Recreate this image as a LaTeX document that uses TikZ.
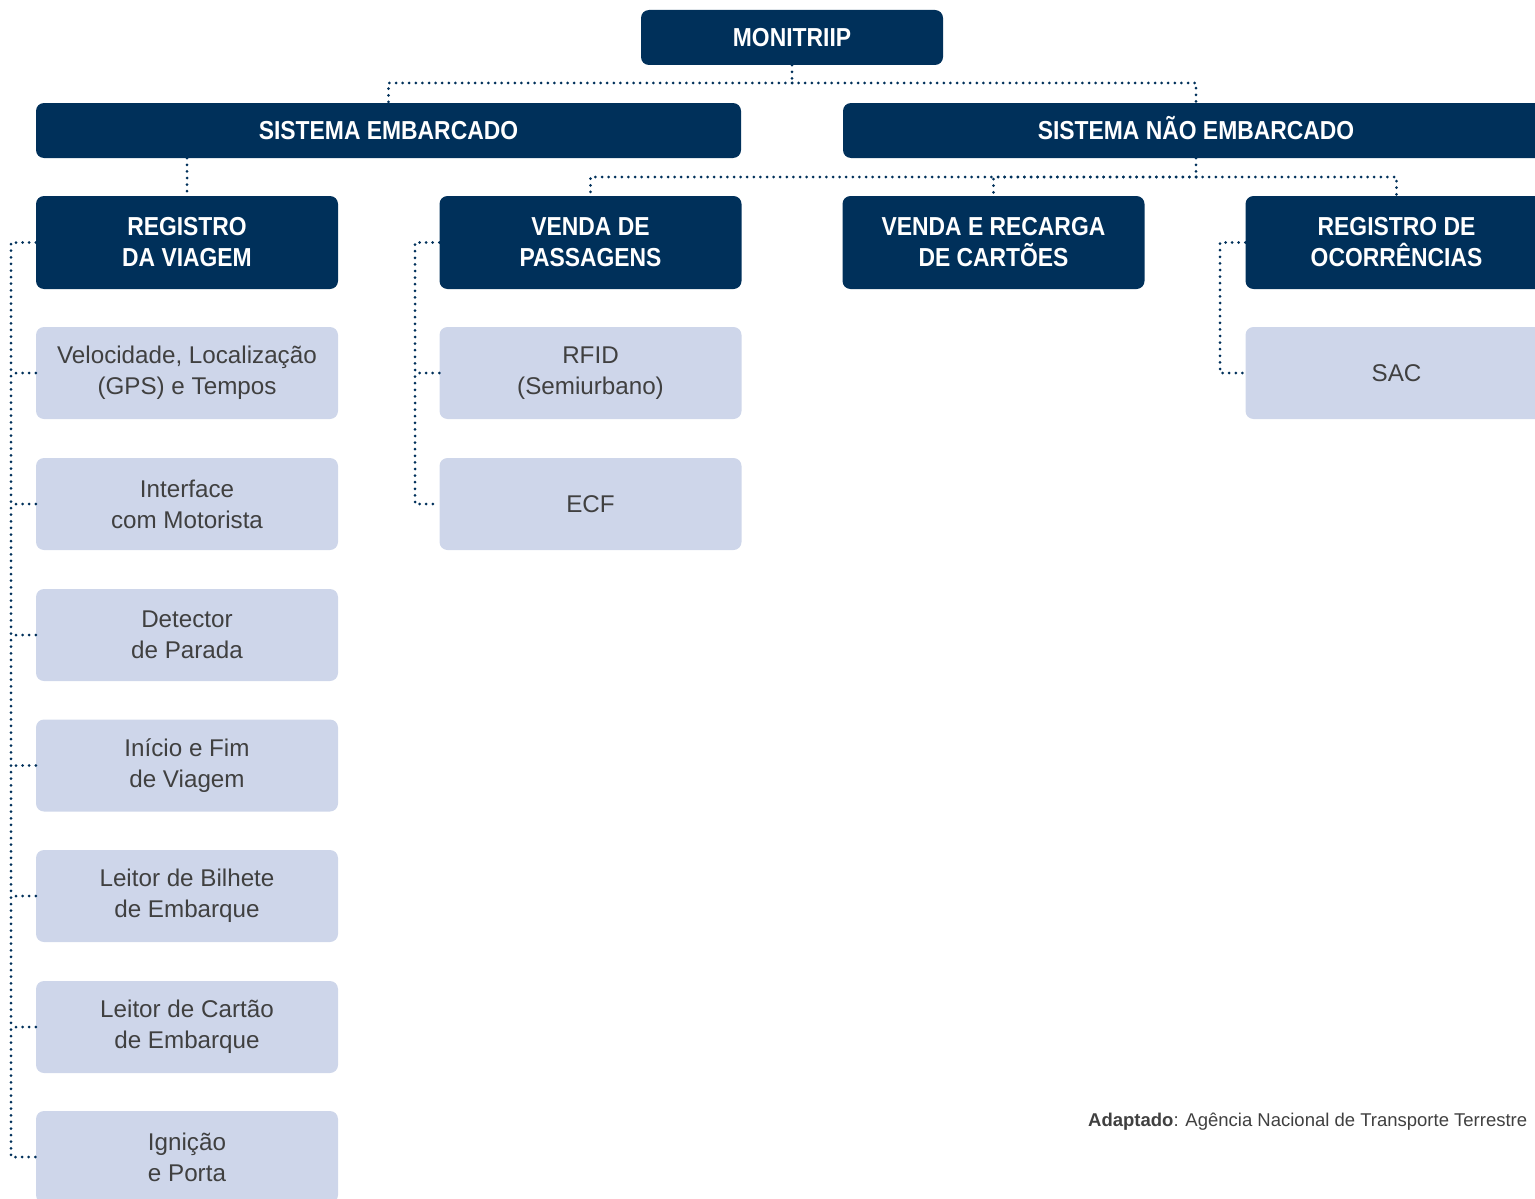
\documentclass[tikz,border=0pt]{standalone}
\usepackage{fontspec}
\setmainfont{Liberation Sans}
\newfontfamily\hdrfont{Liberation Sans}[FakeStretch=0.88]
\definecolor{navy}{RGB}{0,48,90}
\definecolor{lightbox}{RGB}{206,214,234}
\definecolor{txtgray}{RGB}{64,64,64}
\tikzset{
  darkbox/.style={fill=navy, rounded corners=8pt, text=white, align=center,
    font=\hdrfont\bfseries\fontsize{26}{31}\selectfont, inner sep=0pt},
  oneline/.style={text height=18.7pt, text depth=0pt},
  lightbx/.style={fill=lightbox, rounded corners=8pt, text=txtgray, align=center,
    font=\fontsize{24.2}{31}\selectfont, inner sep=0pt, minimum width=302pt, minimum height=92pt},
  dotline/.style={draw=navy, line width=3pt, dash pattern=on 0pt off 6.6pt, line cap=round}
}
\begin{document}
\begin{tikzpicture}[x=1pt,y=-1pt]
\useasboundingbox (0,0) rectangle (1535,1199);
\clip (0,0) rectangle (1535,1199);
% top
\node[darkbox, oneline, minimum width=302pt, minimum height=55pt] (moni) at (792,37.5) {MONITRIIP};
\node[darkbox, oneline, minimum width=705pt, minimum height=55pt] (se) at (388.5,130.5) {SISTEMA EMBARCADO};
\node[darkbox, oneline, minimum width=706pt, minimum height=55pt] (sne) at (1196,130.5) {SISTEMA NÃO EMBARCADO};
% level 2
\node[darkbox, minimum width=302pt, minimum height=93pt] (rdv) at (187,242.5) {REGISTRO\\DA VIAGEM};
\node[darkbox, minimum width=302pt, minimum height=93pt] (vdp) at (590.5,242.5) {VENDA DE\\PASSAGENS};
\node[darkbox, minimum width=302pt, minimum height=93pt] (vrc) at (993.5,242.5) {VENDA E RECARGA\\DE CARTÕES};
\node[darkbox, minimum width=302pt, minimum height=93pt] (roc) at (1396.5,242.5) {REGISTRO DE\\OCORRÊNCIAS};
% sub boxes
\node[lightbx] (r1) at (187,373) {Velocidade, Localização\\(GPS) e Tempos};
\node[lightbx] (r2) at (187,504) {Interface\\com Motorista};
\node[lightbx] (r3) at (187,635) {Detector\\de Parada};
\node[lightbx] (r4) at (187,765.5) {Início e Fim\\de Viagem};
\node[lightbx] (r5) at (187,896) {Leitor de Bilhete\\de Embarque};
\node[lightbx] (r6) at (187,1027) {Leitor de Cartão\\de Embarque};
\node[lightbx] (r7) at (187,1157) {Ignição\\e Porta};
\node[lightbx] (v1) at (590.5,373) {RFID\\(Semiurbano)};
\node[lightbx] (v2) at (590.5,504) {ECF};
\node[lightbx] (o1) at (1396.5,373) {SAC};
% connectors top
\coordinate (j1) at (792,83);
\draw[dotline] (moni.south) -- (j1);
\draw[dotline] (j1) -| (se.north);
\draw[dotline] (j1) -| (sne.north);
\draw[dotline] (se.south -| rdv.north) -- (rdv.north);
\coordinate (j2) at (1196,177);
\draw[dotline] (sne.south) -- (j2);
\draw[dotline] (j2) -| (vdp.north);
\draw[dotline] (j2) -| (vrc.north);
\draw[dotline] (j2) -| (roc.north);
% brackets
\coordinate (bl) at (11,242.5);
\draw[dotline] (rdv.west) -- (bl) -- (bl |- r7.west) -- (r7.west);
\foreach \n in {r1,r2,r3,r4,r5,r6}{\draw[dotline] (\n.west) -- (\n.west -| bl);}
\coordinate (bv) at (415,242.5);
\draw[dotline] (vdp.west) -- (bv) -- (bv |- v2.west) -- (v2.west);
\draw[dotline] (v1.west) -- (v1.west -| bv);
\coordinate (bo) at (1220,242.5);
\draw[dotline] (roc.west) -- (bo) -- (bo |- o1.west) -- (o1.west);
% caption
\node[anchor=base west, text=txtgray, font=\fontsize{18.5}{22}\selectfont, inner sep=0pt] (cap) at (1088,1126) {\textbf{Adaptado}: Agência Nacional de Transporte Terrestre};
\end{tikzpicture}
\end{document}
